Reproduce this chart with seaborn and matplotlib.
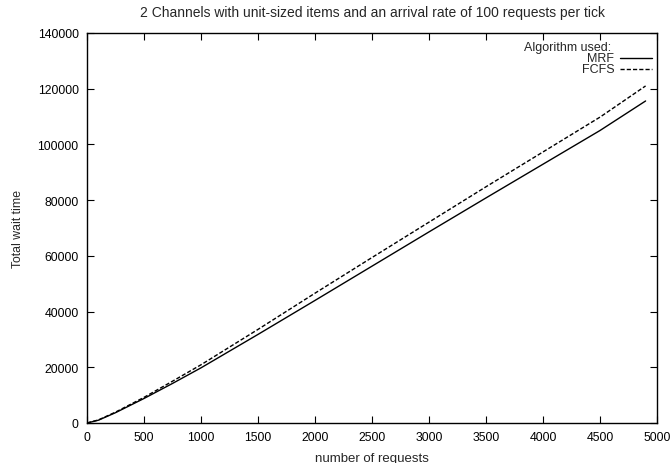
import matplotlib
matplotlib.use("Agg")
import matplotlib.pyplot as plt
import seaborn as sns
import pandas as pd

requests = [0, 100, 250, 500, 750, 1000, 1500, 2000, 2500, 3000, 3500, 4000, 4500, 4900]
mrf_wait = [0, 1000, 3700, 8800, 14200, 19800, 31800, 44000, 56300, 68600, 80800, 92900, 105000, 115600]
fcfs_wait = [0, 1100, 3900, 9200, 15000, 20900, 33600, 46600, 59400, 72100, 84800, 97300, 109800, 121000]
series_names = ["MRF", "FCFS"]

title = "2 Channels with unit-sized items and an arrival rate of 100 requests per tick"
xlabel = "number of requests"
ylabel = "Total wait time"
legend_title = "Algorithm used:"

df = pd.DataFrame({
    "requests": requests * 2,
    "wait": mrf_wait + fcfs_wait,
    "Algorithm": [series_names[0]] * len(requests) + [series_names[1]] * len(requests),
})

sns.set_style("ticks")
plt.rcParams["font.family"] = ["Liberation Sans", "DejaVu Sans"]
plt.rcParams["font.size"] = 8.5

fig = plt.figure(figsize=(6.70, 4.64), dpi=100)
ax = fig.add_axes([87 / 670, 40 / 464, 570 / 670, 390 / 464])

sns.lineplot(data=df, x="requests", y="wait", hue="Algorithm", style="Algorithm",
             palette={"MRF": "black", "FCFS": "black"},
             dashes={"MRF": "", "FCFS": (3, 1.5)}, linewidth=1.0,
             legend=False, ax=ax)

ax.set_xlim(0, 5000)
ax.set_ylim(0, 140000)
ax.set_xticks(range(0, 5001, 500))
ax.set_yticks(range(0, 140001, 20000))
ax.tick_params(direction="in", length=5, width=0.8, top=True, right=True,
               labelsize=8.8, colors="black", pad=6)
for s in ax.spines.values():
    s.set_visible(True)
    s.set_color("black")
    s.set_linewidth(1.0)

ax.set_xlabel(xlabel, fontsize=9.5, labelpad=6)
ax.set_ylabel(ylabel, fontsize=8.8, labelpad=10)
ax.set_title(title, fontsize=10, pad=12)

# gnuplot-style key
ax.text(0.919, 0.964, legend_title, transform=ax.transAxes, ha="right", va="center", fontsize=9)
ys = [0.936, 0.908]
styles = ["-", (0, (3, 1.5))]
for name, y, ls in zip(series_names, ys, styles):
    ax.text(0.925, y, name, transform=ax.transAxes, ha="right", va="center", fontsize=9)
    ax.plot([0.935, 0.991], [y, y], transform=ax.transAxes, color="black", linestyle=ls, linewidth=1.0)

fig.savefig("out.png", dpi=100)
